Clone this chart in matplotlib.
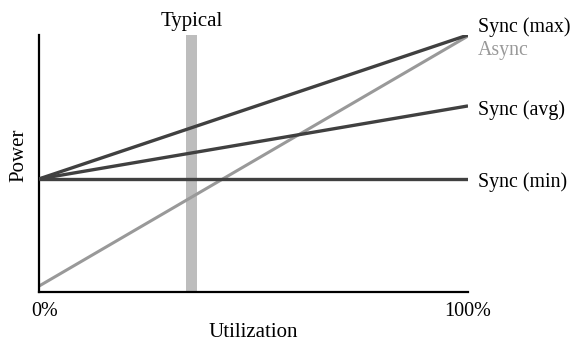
import matplotlib
matplotlib.use("Agg")
import matplotlib.pyplot as plt

plt.rcParams['font.family'] = ['Liberation Serif', 'DejaVu Serif']

# utilization (%) at the two ends of each line
util = [0, 100]
sync_max = [0.44, 1.0]
sync_avg = [0.44, 0.724]
sync_min = [0.44, 0.44]
async_pw = [0.023, 0.996]

typical_lo, typical_hi = 34.3, 36.8

dark = "#404040"
light = "#999999"
fs = 15
lab_fs = 14.3

fig = plt.figure(figsize=(5.79, 3.41), dpi=100)
ax = fig.add_axes([0.0674, 0.1437, 0.8083 - 0.0674, 0.8974 - 0.1437])

ax.axvspan(typical_lo, typical_hi, ymax=1.005, color="#bdbdbd", lw=0, zorder=1)
ax.plot(util, async_pw, color=light, lw=2.2, zorder=2, solid_capstyle="butt")
ax.plot(util, sync_min, color=dark, lw=2.4, zorder=3, solid_capstyle="butt")
ax.plot(util, sync_avg, color=dark, lw=2.4, zorder=3, solid_capstyle="butt")
ax.plot(util, sync_max, color=dark, lw=2.4, zorder=3, solid_capstyle="butt")

ax.set_xlim(0, 100)
ax.set_ylim(0, 1)
ax.spines['top'].set_visible(False)
ax.spines['right'].set_visible(False)
ax.spines['left'].set_linewidth(1.6)
ax.spines['bottom'].set_linewidth(1.6)
ax.set_yticks([])
ax.set_xticks([1.3, 100])
ax.set_xticklabels(["0%", "100%"], fontsize=14.5)
ax.tick_params(axis='x', length=0, pad=7)

ax.set_xlabel("Utilization", fontsize=fs)
ax.xaxis.set_label_coords(0.5, -0.12)
ax.set_ylabel("Power", fontsize=fs)
ax.yaxis.set_label_coords(-0.025, 0.533)

lx = 102.3
ax.text(lx, sync_max[1] + 0.012, "Sync (max)", fontsize=lab_fs, color="black",
        va="baseline", ha="left", clip_on=False)
ax.text(lx, async_pw[1] - 0.074, "Async", fontsize=lab_fs, color=light,
        va="baseline", ha="left", clip_on=False)
ax.text(lx, sync_avg[1] - 0.035, "Sync (avg)", fontsize=lab_fs, color="black",
        va="baseline", ha="left", clip_on=False)
ax.text(lx, sync_min[1] - 0.031, "Sync (min)", fontsize=lab_fs, color="black",
        va="baseline", ha="left", clip_on=False)
ax.text((typical_lo + typical_hi) / 2, 1.035, "Typical", fontsize=fs,
        ha="center", va="baseline", clip_on=False)

fig.savefig("out.png", dpi=100)
